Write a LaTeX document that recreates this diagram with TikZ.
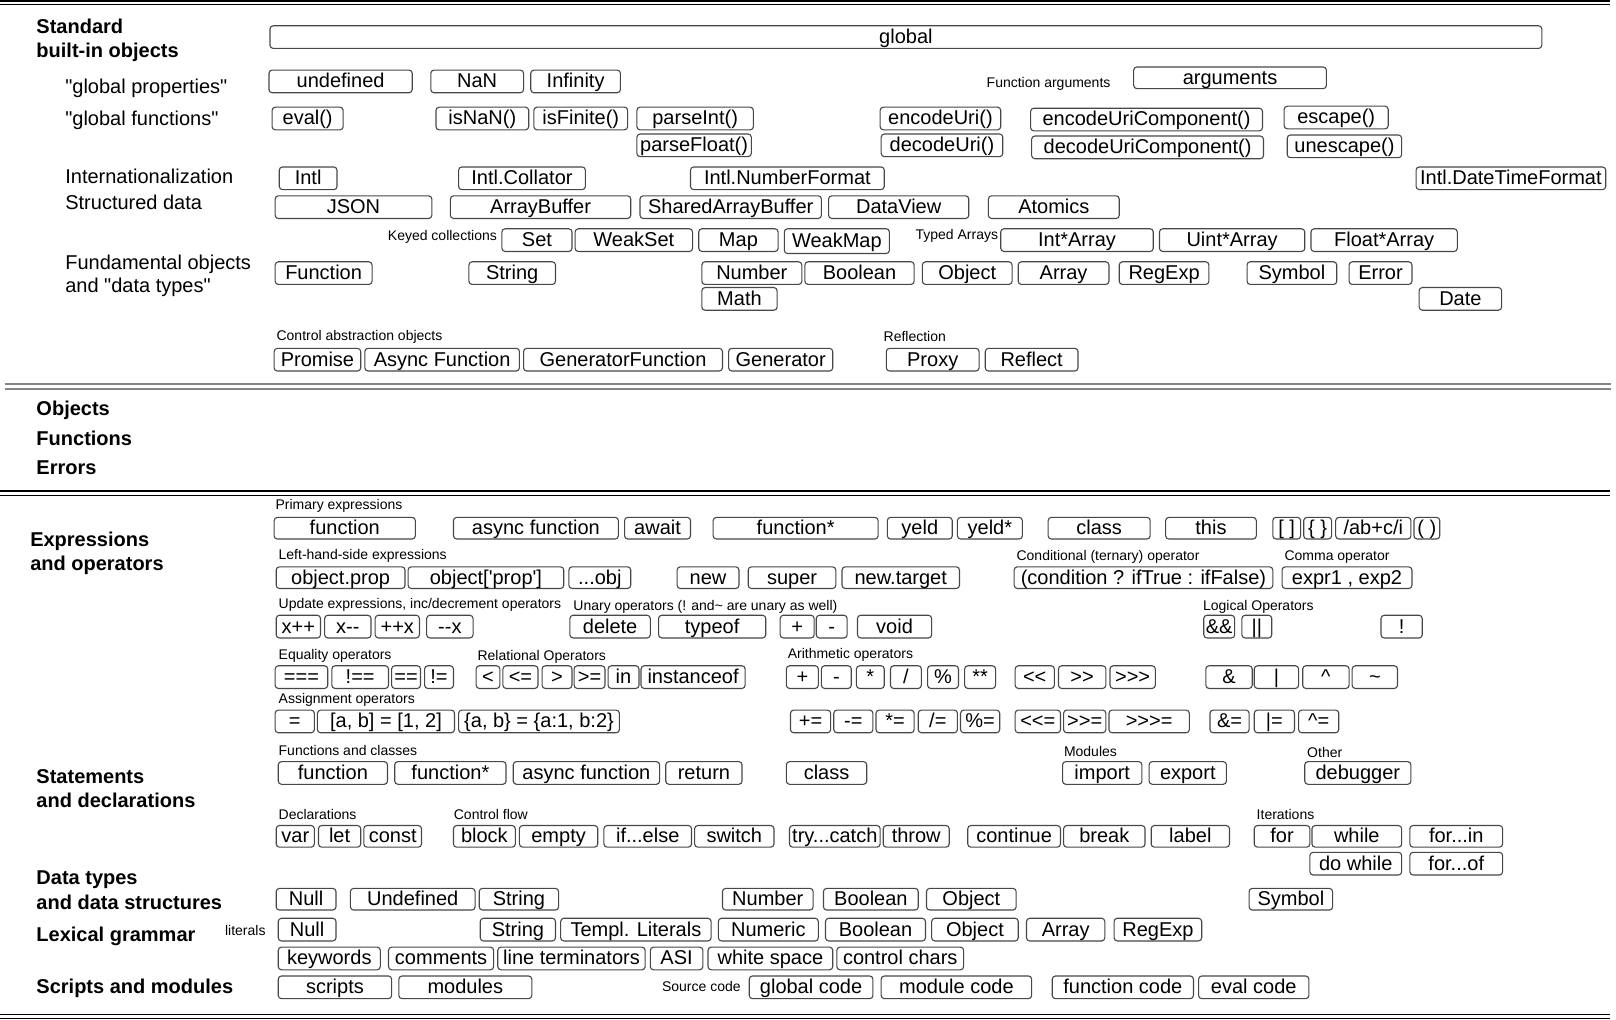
\documentclass[tikz,border=0pt]{standalone}
\usepackage{fontspec}
\newfontfamily\lsans{Liberation Sans}
\tikzset{
  bx/.style={draw=black!72, line width=0.55pt, rounded corners=1.6pt, inner sep=0pt, outer sep=0pt,
    font=\lsans\fontsize{10}{12}\selectfont, text height=8pt, text depth=1.6pt},
  sm/.style={anchor=west, inner sep=0pt, font=\lsans\fontsize{7}{8}\selectfont, text height=5.3pt, text depth=1.4pt},
  lab/.style={anchor=west, inner sep=0pt, font=\lsans\fontsize{10}{12}\selectfont, text height=7.7pt, text depth=1.9pt},
  hd/.style={anchor=west, inner sep=0pt, font=\lsans\bfseries\fontsize{10}{12}\selectfont, text height=7.7pt, text depth=1.9pt},
  sepline/.style={black, line width=0.6pt},
  sepgray/.style={black!48, line width=1pt},
}
\newcommand\bx[6]{\node[bx, minimum width={(#4-#2)*0.5153pt}, minimum height={(#5-#3)*0.5153pt}] (#1) at ({(#2+#4)/2},{(#3+#5)/2}) {#6};}
\begin{document}
\begin{tikzpicture}[x=0.5153pt, y=-0.5153pt]
\useasboundingbox (0,0) rectangle (1568,989);
% separators
\draw[sepline] (0,1) -- (1562,1);
\draw[sepline] (0,4.6) -- (1562,4.6);
\draw[sepgray] (5,372.5) -- (1563,372.5);
\draw[sepgray] (5,377) -- (1563,377);
\draw[sepline] (0,476.5) -- (1562,476.5);
\draw[sepline] (0,480.5) -- (1562,480.5);
\draw[sepline] (0,984.5) -- (1562,984.5);
\draw[sepline] (0,988.3) -- (1562,988.3);
% headings
\node[hd] (hstd1) at (35,27) {Standard};
\node[hd] (hstd2) at (35,50) {built-in objects};
\node[lab] (lgp) at (63,85) {"global properties"};
\node[lab] (lgf) at (63,116) {"global functions"};
\node[lab] (lint) at (63,172) {Internationalization};
\node[lab] (lsd) at (63,198) {Structured data};
\node[lab] (lfo1) at (63,256) {Fundamental objects};
\node[lab] (lfo2) at (63,278) {and "data types"};
\node[hd] (hobj) at (35,398) {Objects};
\node[hd] (hfun) at (35,427) {Functions};
\node[hd] (herr) at (35,455) {Errors};
\node[hd] (hexp1) at (29,525) {Expressions};
\node[hd] (hexp2) at (29,548) {and operators};
\node[hd] (hst1) at (35,755) {Statements};
\node[hd] (hst2) at (35,778) {and declarations};
\node[hd] (hdt1) at (35,853) {Data types};
\node[hd] (hdt2) at (35,877) {and data structures};
\node[hd] (hlex) at (35,908) {Lexical grammar};
\node[hd] (hscr) at (35,958) {Scripts and modules};
% small labels
\node[sm] (sfa) at (957,81) {Function arguments};
\node[sm] (skc) at (376,230) {Keyed collections};
\node[sm] (sta) at (888,229) {Typed Arrays};
\node[sm] (scao) at (268,327) {Control abstraction objects};
\node[sm] (srefl) at (857,328) {Reflection};
\node[sm] (sprim) at (267,491) {Primary expressions};
\node[sm] (slhs) at (270,539) {Left-hand-side expressions};
\node[sm] (scond) at (986,540) {Conditional (ternary) operator};
\node[sm] (scomma) at (1246,540) {Comma operator};
\node[sm] (supd) at (270,587) {Update expressions, inc/decrement operators};
\node[sm] (sun) at (556,589) {Unary operators (! and\textasciitilde{} are unary as well)};
\node[sm] (slog) at (1167,589) {Logical Operators};
\node[sm] (seq) at (270,636) {Equality operators};
\node[sm] (srel) at (463,637) {Relational Operators};
\node[sm] (sari) at (764,635) {Arithmetic operators};
\node[sm] (sasg) at (270,679) {Assignment operators};
\node[sm] (sfc) at (270,729) {Functions and classes};
\node[sm] (smod) at (1032,730) {Modules};
\node[sm] (soth) at (1268,731) {Other};
\node[sm] (sdecl) at (270,791) {Declarations};
\node[sm] (scf) at (440,791) {Control flow};
\node[sm] (sit) at (1219,791) {Iterations};
\node[sm] (slit) at (218,904) {literals};
\node[sm] (ssrc) at (642,958) {Source code};
% section 1 boxes
\bx{global}{262}{25}{1496}{47}{global}
\bx{undef}{261}{68}{400}{90}{undefined}
\bx{nan}{418}{68}{508}{90}{NaN}
\bx{inf}{515}{68}{602}{90}{Infinity}
\bx{args}{1100}{65}{1287}{86}{arguments}
\bx{eval}{264}{104}{333}{126}{eval()}
\bx{isnan}{423}{104}{513}{126}{isNaN()}
\bx{isfin}{518}{104}{609}{126}{isFinite()}
\bx{pint}{618}{104}{731}{126}{parseInt()}
\bx{pfloat}{618}{130}{729}{152}{parseFloat()}
\bx{encuri}{854}{104}{971}{126}{encodeUri()}
\bx{decuri}{855}{130}{973}{152}{decodeUri()}
\bx{encuc}{1000}{105}{1225}{127}{encodeUriComponent()}
\bx{decuc}{1001}{132}{1226}{154}{decodeUriComponent()}
\bx{esc}{1246}{103}{1347}{125}{escape()}
\bx{unesc}{1249}{131}{1360}{153}{unescape()}
\bx{intl}{271}{162}{327}{184}{Intl}
\bx{coll}{445}{162}{568}{184}{Intl.Collator}
\bx{numf}{670}{162}{858}{184}{Intl.NumberFormat}
\bx{dtf}{1374}{162}{1558}{184}{Intl.DateTimeFormat}
\bx{json}{267}{190}{419}{212}{JSON}
\bx{abuf}{437}{190}{612}{212}{ArrayBuffer}
\bx{sabuf}{621}{190}{797}{212}{SharedArrayBuffer}
\bx{dview}{804}{190}{940}{212}{DataView}
\bx{atom}{959}{190}{1086}{212}{Atomics}
\bx{set}{487}{222}{555}{244}{Set}
\bx{wset}{558}{222}{672}{244}{WeakSet}
\bx{map}{678}{222}{755}{244}{Map}
\bx{wmap}{761}{222}{863}{246}{WeakMap}
\bx{iarr}{971}{222}{1119}{244}{Int*Array}
\bx{uarr}{1125}{222}{1266}{244}{Uint*Array}
\bx{farr}{1272}{222}{1414}{244}{Float*Array}
\bx{func}{267}{254}{361}{276}{Function}
\bx{str}{455}{254}{539}{276}{String}
\bx{num}{681}{254}{778}{276}{Number}
\bx{bool}{781}{254}{887}{276}{Boolean}
\bx{obj}{895}{254}{982}{276}{Object}
\bx{arr}{988}{254}{1076}{276}{Array}
\bx{rexp}{1086}{254}{1173}{276}{RegExp}
\bx{sym}{1210}{254}{1297}{276}{Symbol}
\bx{err}{1309}{254}{1370}{276}{Error}
\bx{math}{681}{279}{754}{301}{Math}
\bx{date}{1377}{279}{1457}{301}{Date}
\bx{prom}{266}{338}{350}{360}{Promise}
\bx{afun}{354}{338}{504}{360}{Async Function}
\bx{gfun}{508}{338}{701}{360}{GeneratorFunction}
\bx{gen}{707}{338}{808}{360}{Generator}
\bx{proxy}{860}{338}{950}{360}{Proxy}
\bx{refl}{956}{338}{1046}{360}{Reflect}
% primary expressions
\bx{pfunc}{266}{502}{403}{523}{function}
\bx{pasync}{440}{502}{600}{523}{async function}
\bx{await}{606}{502}{670}{523}{await}
\bx{pfstar}{692}{502}{852}{523}{function*}
\bx{yeld}{861}{502}{924}{523}{yeld}
\bx{yeldst}{929}{502}{992}{523}{yeld*}
\bx{pclass}{1017}{502}{1116}{523}{class}
\bx{this}{1131}{502}{1219}{523}{this}
\bx{brk}{1235}{502}{1262}{523}{[ ]}
\bx{brc}{1265}{502}{1292}{523}{\{ \}}
\bx{regex}{1296}{502}{1369}{523}{/ab+c/i}
\bx{paren}{1372}{502}{1397}{523}{( )}
% left-hand-side
\bx{objprop}{268}{550}{393}{571}{object.prop}
\bx{objbr}{396}{550}{547}{571}{object['prop']}
\bx{spread}{552}{550}{612}{571}{...obj}
\bx{new}{657}{550}{717}{571}{new}
\bx{super}{726}{550}{811}{571}{super}
\bx{newt}{817}{550}{931}{571}{new.target}
\bx{cond}{984}{550}{1235}{571}{(condition ? ifTrue : ifFalse)}
\bx{comma}{1244}{550}{1370}{571}{expr1 , exp2}
% update / unary / logical
\bx{xpp}{268}{597}{311}{619}{x++}
\bx{xmm}{315}{597}{360}{619}{x--}
\bx{ppx}{364}{597}{407}{619}{++x}
\bx{mmx}{414}{597}{459}{619}{--x}
\bx{delete}{553}{597}{631}{619}{delete}
\bx{typeof}{639}{597}{743}{619}{typeof}
\bx{uplus}{757}{597}{790}{619}{+}
\bx{uminus}{792}{597}{822}{619}{-}
\bx{void}{832}{597}{904}{619}{void}
\bx{land}{1168}{597}{1198}{619}{\&\&}
\bx{lor}{1205}{597}{1234}{619}{||}
\bx{lnot}{1340}{597}{1380}{619}{!}
% equality / relational / arithmetic / bitwise
\bx{eqq}{267}{646}{318}{668}{===}
\bx{neqq}{322}{646}{377}{668}{!==}
\bx{eq}{380}{646}{408}{668}{==}
\bx{neq}{412}{646}{440}{668}{!=}
\bx{lt}{462}{646}{485}{668}{<}
\bx{le}{488}{646}{522}{668}{<=}
\bx{gt}{526}{646}{555}{668}{>}
\bx{ge}{557}{646}{587}{668}{>=}
\bx{inop}{590}{646}{620}{668}{in}
\bx{instof}{622}{646}{723}{668}{instanceof}
\bx{aplus}{763}{646}{794}{668}{+}
\bx{aminus}{797}{646}{826}{668}{-}
\bx{amul}{831}{646}{858}{668}{*}
\bx{adiv}{864}{646}{894}{668}{/}
\bx{amod}{900}{646}{930}{668}{\%}
\bx{apow}{936}{646}{966}{668}{**}
\bx{shl}{985}{646}{1023}{668}{<<}
\bx{shr}{1027}{646}{1073}{668}{>>}
\bx{ushr}{1077}{646}{1121}{668}{>>>}
\bx{band}{1170}{646}{1215}{668}{\&}
\bx{bor}{1217}{646}{1260}{668}{|}
\bx{bxor}{1264}{646}{1309}{668}{\textasciicircum}
\bx{bnot}{1312}{646}{1356}{668}{\textasciitilde}
% assignment
\bx{asg}{267}{689}{305}{711}{=}
\bx{dsa}{308}{689}{441}{711}{[a, b] = [1, 2]}
\bx{dso}{445}{689}{601}{711}{\{a, b\} = \{a:1, b:2\}}
\bx{pluseq}{767}{689}{806}{711}{+=}
\bx{minuseq}{809}{689}{847}{711}{-=}
\bx{muleq}{850}{689}{887}{711}{*=}
\bx{diveq}{891}{689}{929}{711}{/=}
\bx{modeq}{932}{689}{970}{711}{\%=}
\bx{shleq}{985}{689}{1029}{711}{<<=}
\bx{shreq}{1032}{689}{1073}{711}{>>=}
\bx{ushreq}{1076}{689}{1154}{711}{>>>=}
\bx{andeq}{1174}{689}{1212}{711}{\&=}
\bx{oreq}{1217}{689}{1256}{711}{|=}
\bx{xoreq}{1260}{689}{1299}{711}{\textasciicircum=}
% functions and classes
\bx{sfunc}{270}{739}{376}{761}{function}
\bx{sfstar}{383}{739}{491}{761}{function*}
\bx{sasync}{498}{739}{640}{761}{async function}
\bx{return}{646}{739}{720}{761}{return}
\bx{sclass}{763}{739}{841}{761}{class}
\bx{import}{1031}{739}{1108}{761}{import}
\bx{export}{1115}{739}{1190}{761}{export}
\bx{debug}{1266}{739}{1369}{761}{debugger}
% declarations / control flow / iterations
\bx{var}{268}{801}{305}{822}{var}
\bx{let}{309}{801}{350}{822}{let}
\bx{const}{353}{801}{409}{822}{const}
\bx{block}{440}{801}{500}{822}{block}
\bx{empty}{504}{801}{580}{822}{empty}
\bx{ifelse}{586}{801}{671}{822}{if...else}
\bx{switch}{674}{801}{751}{822}{switch}
\bx{try}{766}{801}{854}{822}{try...catch}
\bx{throw}{857}{801}{921}{822}{throw}
\bx{cont}{939}{801}{1029}{822}{continue}
\bx{break}{1032}{801}{1111}{822}{break}
\bx{label}{1117}{801}{1193}{822}{label}
\bx{for}{1217}{801}{1271}{822}{for}
\bx{while}{1273}{801}{1360}{822}{while}
\bx{forin}{1368}{801}{1458}{822}{for...in}
\bx{dowhile}{1271}{827}{1360}{849}{do while}
\bx{forof}{1368}{827}{1458}{849}{for...of}
% data types
\bx{dnull}{268}{862}{326}{883}{Null}
\bx{dundef}{340}{862}{461}{883}{Undefined}
\bx{dstr}{465}{862}{542}{883}{String}
\bx{dnum}{701}{862}{789}{883}{Number}
\bx{dbool}{799}{862}{891}{883}{Boolean}
\bx{dobj}{899}{862}{986}{883}{Object}
\bx{dsym}{1212}{862}{1293}{883}{Symbol}
% lexical grammar
\bx{lnull}{270}{891}{326}{913}{Null}
\bx{lstr}{466}{891}{539}{913}{String}
\bx{ltempl}{544}{891}{690}{913}{Templ. Literals}
\bx{lnum}{697}{891}{794}{913}{Numeric}
\bx{lbool}{801}{891}{898}{913}{Boolean}
\bx{lobj}{904}{891}{988}{913}{Object}
\bx{larr}{996}{891}{1072}{913}{Array}
\bx{lrex}{1081}{891}{1166}{913}{RegExp}
\bx{kw}{270}{919}{369}{941}{keywords}
\bx{comm}{377}{919}{479}{941}{comments}
\bx{lterm}{483}{919}{626}{941}{line terminators}
\bx{asi}{631}{919}{682}{941}{ASI}
\bx{ws}{687}{919}{808}{941}{white space}
\bx{ctrl}{812}{919}{935}{941}{control chars}
% scripts and modules
\bx{scripts}{270}{947}{380}{969}{scripts}
\bx{modules}{387}{947}{516}{969}{modules}
\bx{gcode}{727}{947}{847}{969}{global code}
\bx{mcode}{855}{947}{1001}{969}{module code}
\bx{fcode}{1021}{947}{1158}{969}{function code}
\bx{ecode}{1163}{947}{1270}{969}{eval code}
\end{tikzpicture}
\end{document}
